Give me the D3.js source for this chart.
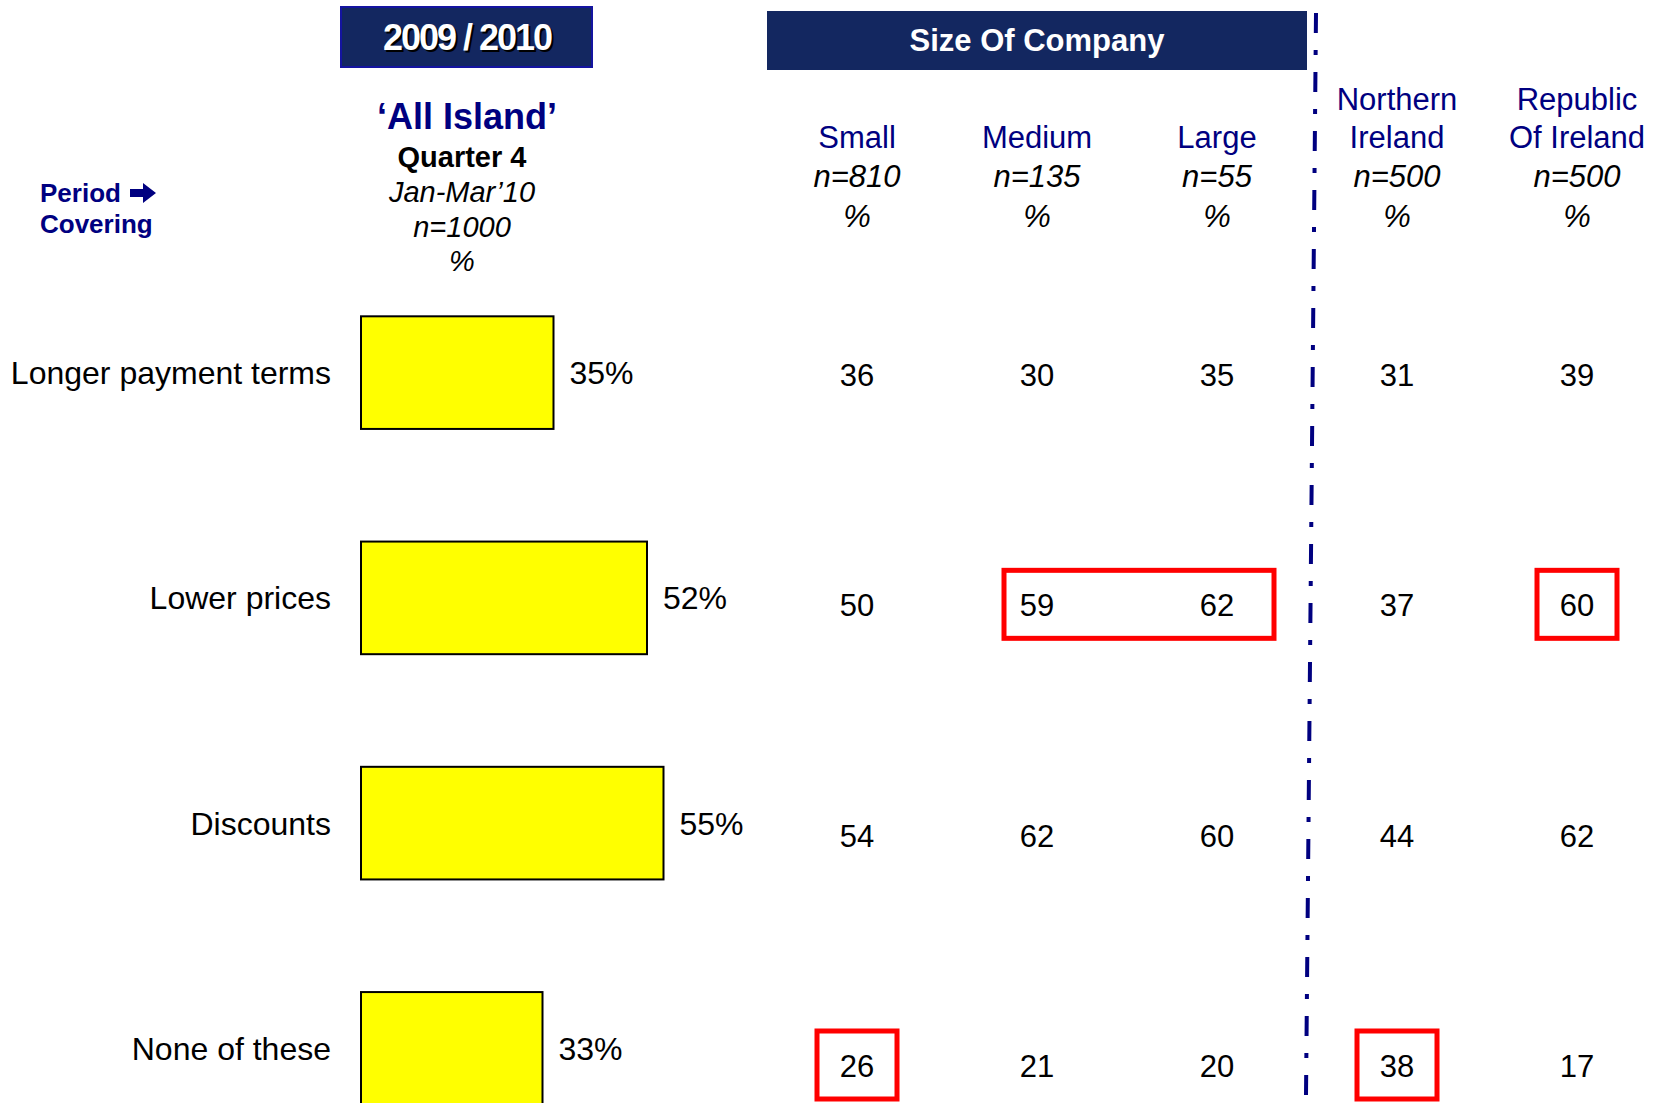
<!DOCTYPE html>
<html>
<head>
<meta charset="utf-8">
<script src="https://cdn.jsdelivr.net/npm/d3@7"></script>
<style>
  body { margin: 0; background: #fff; }
  text { font-family: 'Liberation Sans', Arial, sans-serif; }
</style>
</head>
<body>
<div id="vis"></div>
<script>
var categories = ['Longer payment terms', 'Lower prices', 'Discounts', 'None of these'];
var allIsland = [35, 52, 55, 33];

var columns = ['Small', 'Medium', 'Large', 'Northern Ireland', 'Republic Of Ireland'];
var columnLines = [['Small'], ['Medium'], ['Large'], ['Northern', 'Ireland'], ['Republic', 'Of Ireland']];
var columnN = [810, 135, 55, 500, 500];

var small = [36, 50, 54, 26];
var medium = [30, 59, 62, 21];
var large = [35, 62, 60, 20];
var northernIreland = [31, 37, 44, 38];
var republicOfIreland = [39, 60, 62, 17];

// cells boxed in red: [row, first column, last column]
var highlights = [
  ['Lower prices', 'Medium', 'Large'],
  ['Lower prices', 'Republic Of Ireland', 'Republic Of Ireland'],
  ['None of these', 'Small', 'Small'],
  ['None of these', 'Northern Ireland', 'Northern Ireland']
];

var width = 1665;
var height = 1103;
var navy = '#000080';
var boxFill = '#132760';

var svg = d3.select('#vis')
  .append('svg')
  .attr('width', width)
  .attr('height', height);

// scales
var x = d3.scaleLinear().domain([0, 100]).range([361, 911]);
var y = d3.scaleBand().domain(categories).range([260, 1161])
  .paddingInner(0.5).paddingOuter(0.25);
var rowY = d3.scalePoint().domain(categories).range([375, 1066]);
var colX = d3.scalePoint().domain(columns).range([857, 1577]);

var table = categories.map(function (c, i) {
  return [small[i], medium[i], large[i], northernIreland[i], republicOfIreland[i]];
});

// header boxes
svg.append('rect')
  .attr('x', 341).attr('y', 7).attr('width', 251).attr('height', 60)
  .attr('fill', boxFill).attr('stroke', '#1414a0').attr('stroke-width', 2);
svg.append('text')
  .attr('x', 469).attr('y', 52)
  .attr('text-anchor', 'middle')
  .style('font-size', '36px').style('font-weight', 'bold')
  .style('letter-spacing', '-2px')
  .style('fill', '#000')
  .text('2009 / 2010');
svg.append('text')
  .attr('x', 467).attr('y', 50)
  .attr('text-anchor', 'middle')
  .style('font-size', '36px').style('font-weight', 'bold')
  .style('letter-spacing', '-2px')
  .style('fill', '#fff')
  .text('2009 / 2010');

svg.append('rect')
  .attr('x', 767).attr('y', 11).attr('width', 540).attr('height', 59)
  .attr('fill', boxFill);
svg.append('text')
  .attr('x', 1037).attr('y', 51)
  .attr('text-anchor', 'middle')
  .style('font-size', '31px').style('font-weight', 'bold')
  .style('fill', '#fff')
  .text('Size Of Company');

// all island block title
svg.append('text')
  .attr('x', 467).attr('y', 129)
  .attr('text-anchor', 'middle')
  .style('font-size', '36px').style('font-weight', 'bold')
  .style('fill', navy)
  .text('\u2018All Island\u2019');

var subLines = [
  { t: 'Quarter 4', y: 167, bold: true },
  { t: 'Jan-Mar\u201910', y: 202 },
  { t: 'n=1000', y: 237 },
  { t: '%', y: 271 }
];
svg.selectAll('.sub')
  .data(subLines)
  .enter().append('text')
  .attr('class', 'sub')
  .attr('x', 462)
  .attr('y', function (d) { return d.y; })
  .attr('text-anchor', 'middle')
  .style('font-size', '29px')
  .style('font-weight', function (d) { return d.bold ? 'bold' : 'normal'; })
  .style('font-style', function (d) { return d.bold ? 'normal' : 'italic'; })
  .style('fill', '#000')
  .text(function (d) { return d.t; });

svg.append('text')
  .attr('x', 40).attr('y', 202)
  .style('font-size', '26px').style('font-weight', 'bold')
  .style('fill', navy)
  .text('Period');
// heavy arrow after "Period"
svg.append('path')
  .attr('d', 'M130,189 L143,189 L143,183 L156,193 L143,203 L143,197 L130,197 Z')
  .attr('fill', navy);
svg.append('text')
  .attr('x', 40).attr('y', 233)
  .style('font-size', '26px').style('font-weight', 'bold')
  .style('fill', navy)
  .text('Covering');

// column headers
var heads = svg.selectAll('.head')
  .data(columns)
  .enter().append('g')
  .attr('class', 'head')
  .attr('transform', function (d) { return 'translate(' + colX(d) + ',0)'; });

heads.each(function (d, i) {
  var g = d3.select(this);
  var lines = columnLines[i];
  lines.forEach(function (l, j) {
    g.append('text')
      .attr('y', 148 - (lines.length - 1 - j) * 38)
      .attr('text-anchor', 'middle')
      .style('font-size', '31px')
      .style('fill', navy)
      .text(l);
  });
  g.append('text')
    .attr('y', 187)
    .attr('text-anchor', 'middle')
    .style('font-size', '31px').style('font-style', 'italic')
    .text('n=' + columnN[i]);
  g.append('text')
    .attr('y', 227)
    .attr('text-anchor', 'middle')
    .style('font-size', '31px').style('font-style', 'italic')
    .text('%');
});

// bars
svg.selectAll('.bar')
  .data(categories)
  .enter().append('rect')
  .attr('class', 'bar')
  .attr('x', x(0))
  .attr('y', function (d) { return y(d); })
  .attr('width', function (d, i) { return x(allIsland[i]) - x(0); })
  .attr('height', y.bandwidth())
  .attr('fill', '#ffff00')
  .attr('stroke', '#000')
  .attr('stroke-width', 2);

svg.selectAll('.barlabel')
  .data(categories)
  .enter().append('text')
  .attr('class', 'barlabel')
  .attr('x', function (d, i) { return x(allIsland[i]) + 16; })
  .attr('y', function (d) { return y(d) + y.bandwidth() / 2; })
  .attr('dy', '0.36em')
  .style('font-size', '32px')
  .text(function (d, i) { return allIsland[i] + '%'; });

svg.selectAll('.cat')
  .data(categories)
  .enter().append('text')
  .attr('class', 'cat')
  .attr('x', 331)
  .attr('y', function (d) { return y(d) + y.bandwidth() / 2; })
  .attr('dy', '0.36em')
  .attr('text-anchor', 'end')
  .style('font-size', '32px')
  .text(function (d) { return d; });

// table values
categories.forEach(function (c, i) {
  svg.selectAll('.val' + i)
    .data(table[i])
    .enter().append('text')
    .attr('class', 'val' + i)
    .attr('x', function (d, j) { return colX(columns[j]); })
    .attr('y', rowY(c))
    .attr('dy', '0.36em')
    .attr('text-anchor', 'middle')
    .style('font-size', '31px')
    .text(function (d) { return d; });
});

// red boxes
svg.selectAll('.hl')
  .data(highlights)
  .enter().append('rect')
  .attr('class', 'hl')
  .attr('x', function (d) { return colX(d[1]) - (d[1] === d[2] ? 40 : 33); })
  .attr('y', function (d) { return rowY(d[0]) - 35; })
  .attr('width', function (d) {
    return colX(d[2]) - colX(d[1]) + (d[1] === d[2] ? 80 : 90);
  })
  .attr('height', 68)
  .attr('fill', 'none')
  .attr('stroke', '#ff0000')
  .attr('stroke-width', 5);

// divider between size and region
svg.append('line')
  .attr('x1', 1316).attr('y1', 13)
  .attr('x2', 1306).attr('y2', 1095)
  .attr('stroke', navy)
  .attr('stroke-width', 4)
  .attr('stroke-dasharray', '20,17,5,17');
</script>
</body>
</html>
